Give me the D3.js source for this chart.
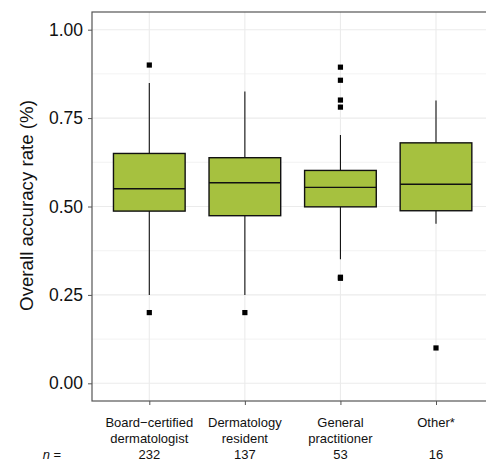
<!DOCTYPE html>
<html>
<head>
<meta charset="utf-8">
<script src="https://cdn.jsdelivr.net/npm/d3@7"></script>
<style>
  body { margin: 0; background: #fff; }
  text { font-family: "Liberation Sans", Arial, sans-serif; }
</style>
</head>
<body>
<svg id="chart" width="486" height="460"></svg>
<script>
// categories and counts
const groups = ["Board\u2212certified|dermatologist", "Dermatology|resident", "General|practitioner", "Other*"];
const counts = [232, 137, 53, 16];

// box stats: [lowerWhisker, q1, median, q3, upperWhisker]
const lowerWhisker = [0.25, 0.25, 0.351, 0.451];
const q1 = [0.487, 0.474, 0.499, 0.488];
const median = [0.550, 0.567, 0.554, 0.563];
const q3 = [0.650, 0.638, 0.602, 0.680];
const upperWhisker = [0.849, 0.825, 0.702, 0.80];
const outliers = [
  [0.90, 0.20],
  [0.20],
  [0.894, 0.857, 0.801, 0.781, 0.300, 0.297],
  [0.10]
];

const yTicks = [0, 0.25, 0.5, 0.75, 1.0];
const yMinor = [0.125, 0.375, 0.625, 0.875];

const svg = d3.select("#chart");
const mLeft = 92, mTop = 12, mBottom = 401, mRight = 493;
const fill = "#a6c13f";

const x = d3.scalePoint()
  .domain(d3.range(groups.length))
  .range([149.3, 436])
  .padding(0);
const step = x.step();
const boxW = step * 0.75;

const y = d3.scaleLinear()
  .domain([-0.05, 1.05])
  .range([mBottom, mTop]);

// grid
const grid = svg.append("g");
grid.selectAll(".minor").data(yMinor).join("line")
  .attr("x1", mLeft).attr("x2", mRight)
  .attr("y1", d => y(d)).attr("y2", d => y(d))
  .attr("stroke", "#ebebeb").attr("stroke-width", 0.6);
grid.selectAll(".major").data(yTicks).join("line")
  .attr("x1", mLeft).attr("x2", mRight)
  .attr("y1", d => y(d)).attr("y2", d => y(d))
  .attr("stroke", "#ebebeb").attr("stroke-width", 1.1);
grid.selectAll(".vmajor").data(d3.range(groups.length)).join("line")
  .attr("x1", d => x(d)).attr("x2", d => x(d))
  .attr("y1", mTop).attr("y2", mBottom)
  .attr("stroke", "#ebebeb").attr("stroke-width", 1.1);

// boxes
const boxes = svg.append("g").selectAll("g").data(d3.range(groups.length)).join("g");
boxes.append("line")
  .attr("x1", i => x(i)).attr("x2", i => x(i))
  .attr("y1", i => y(q3[i])).attr("y2", i => y(upperWhisker[i]))
  .attr("stroke", "#111").attr("stroke-width", 1.1);
boxes.append("line")
  .attr("x1", i => x(i)).attr("x2", i => x(i))
  .attr("y1", i => y(q1[i])).attr("y2", i => y(lowerWhisker[i]))
  .attr("stroke", "#111").attr("stroke-width", 1.1);
boxes.append("rect")
  .attr("x", i => x(i) - boxW / 2)
  .attr("width", boxW)
  .attr("y", i => y(q3[i]))
  .attr("height", i => y(q1[i]) - y(q3[i]))
  .attr("fill", fill)
  .attr("stroke", "#111").attr("stroke-width", 1.4);
boxes.append("line")
  .attr("x1", i => x(i) - boxW / 2).attr("x2", i => x(i) + boxW / 2)
  .attr("y1", i => y(median[i])).attr("y2", i => y(median[i]))
  .attr("stroke", "#111").attr("stroke-width", 1.4);
boxes.selectAll("rect.out").data(i => outliers[i].map(v => [i, v])).join("rect")
  .attr("class", "out")
  .attr("x", d => x(d[0]) - 2.6).attr("y", d => y(d[1]) - 2.6)
  .attr("width", 5.2).attr("height", 5.2)
  .attr("fill", "#000");

// panel border (right side falls off the canvas)
svg.append("rect")
  .attr("x", mLeft).attr("y", mTop)
  .attr("width", mRight - mLeft).attr("height", mBottom - mTop)
  .attr("fill", "none").attr("stroke", "#555").attr("stroke-width", 1.2);

// y axis
const yAxis = svg.append("g")
  .attr("transform", `translate(${mLeft},0)`)
  .call(d3.axisLeft(y).tickValues(yTicks).tickFormat(d3.format(".2f")).tickSize(4).tickPadding(5));
yAxis.select(".domain").remove();
yAxis.selectAll(".tick line").attr("stroke", "#555");
yAxis.selectAll(".tick text")
  .attr("fill", "#111")
  .style("font-size", "17.5px");

// x axis
const xAxis = svg.append("g")
  .attr("transform", `translate(0,${mBottom})`)
  .call(d3.axisBottom(x).tickSize(4).tickFormat(""));
xAxis.select(".domain").remove();
xAxis.selectAll(".tick line").attr("stroke", "#555");

const labels = svg.append("g").selectAll("text").data(d3.range(groups.length)).join("text")
  .attr("text-anchor", "middle")
  .attr("fill", "#111")
  .style("font-size", "13px");
labels.each(function (i) {
  const t = d3.select(this);
  groups[i].split("|").forEach((part, k) => {
    t.append("tspan").attr("x", x(i)).attr("y", 426.5 + k * 16).text(part);
  });
});

svg.append("g").selectAll("text").data(counts).join("text")
  .attr("x", (d, i) => x(i)).attr("y", 458.5)
  .attr("text-anchor", "middle")
  .attr("fill", "#111")
  .style("font-size", "13px")
  .text(d => d);

const nLab = svg.append("text")
  .attr("x", 52).attr("y", 458.5)
  .attr("text-anchor", "middle")
  .attr("fill", "#111")
  .style("font-size", "13px");
nLab.append("tspan").style("font-style", "italic").text("n");
nLab.append("tspan").text(" =");

// y title
svg.append("text")
  .attr("transform", `translate(32.5,205.5) rotate(-90)`)
  .attr("text-anchor", "middle")
  .attr("fill", "#111")
  .style("font-size", "18.7px")
  .text("Overall accuracy rate (%)");
</script>
</body>
</html>
